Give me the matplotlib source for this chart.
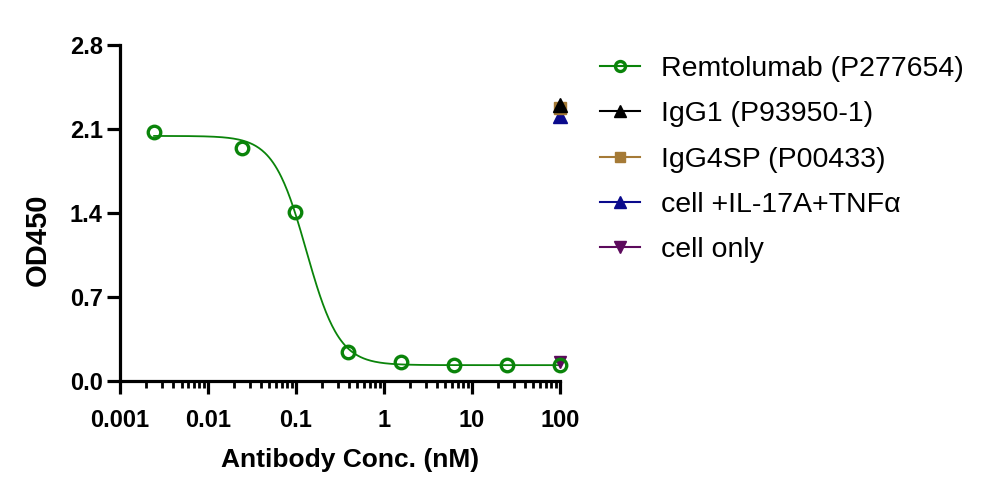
import numpy as np
import matplotlib
matplotlib.use("Agg")
import matplotlib.pyplot as plt
from matplotlib.ticker import LogLocator, NullFormatter, FixedLocator

plt.rcParams['font.family'] = ['Liberation Sans', 'DejaVu Sans']

# Remtolumab dose response
conc = [0.00244, 0.0244, 0.0977, 0.3906, 1.5625, 6.25, 25, 100]
od450 = [2.07, 1.94, 1.41, 0.24, 0.153, 0.13, 0.13, 0.13]

# single controls at 100 nM
ctrl_x = 100
igg1_od = 2.30
igg4_od = 2.27
stim_od = 2.21
cell_od = 0.16

# 4PL fit shown in the reference
fit_top = 2.04
fit_bottom = 0.13
fit_ic50 = 0.131
fit_hill = 2.33

green = '#0A840A'
brown = '#A57A36'
navy = '#0A0A8C'
purple = '#5C0A5C'

fig = plt.figure(figsize=(9.82, 4.99), dpi=100)
ax = fig.add_axes([0.1222, 0.237, 0.448, 0.6734])

xx = np.logspace(np.log10(conc[0]), 2, 400)
yy = fit_bottom + (fit_top - fit_bottom) / (1 + (xx / fit_ic50) ** fit_hill)
ax.plot(xx, yy, color=green, lw=1.3, zorder=3)

ax.plot([ctrl_x], [cell_od], ls='-', color=purple, marker='v', ms=9,
        label='cell only', zorder=4, clip_on=False)
ax.plot([ctrl_x], [stim_od], ls='-', color=navy, marker='^', ms=10,
        label='cell +IL-17A+TNFα', zorder=5, clip_on=False)
ax.plot([ctrl_x], [igg4_od], ls='-', color=brown, marker='s', ms=8,
        label='IgG4SP (P00433)', zorder=6, clip_on=False)
ax.plot([ctrl_x], [igg1_od], ls='-', color='black', marker='^', ms=10,
        label='IgG1 (P93950-1)', zorder=7, clip_on=False)
ax.plot(conc, od450, ls='none', marker='o', ms=9, mfc='none', mew=2.4,
        color=green, zorder=8, clip_on=False)
rem_handle, = ax.plot([], [], ls='-', color=green, marker='o', ms=8,
                      mfc='none', mew=2.4, label='Remtolumab (P277654)')

ax.set_xscale('log')
ax.set_xlim(0.001, 100)
ax.set_ylim(0, 2.8)
ax.yaxis.set_major_locator(FixedLocator([0, 0.7, 1.4, 2.1, 2.8]))
ax.set_yticklabels(['0.0', '0.7', '1.4', '2.1', '2.8'])
ax.xaxis.set_major_locator(FixedLocator([0.001, 0.01, 0.1, 1, 10, 100]))
ax.set_xticklabels(['0.001', '0.01', '0.1', '1', '10', '100'])
ax.xaxis.set_minor_locator(LogLocator(base=10, subs=np.arange(2, 10)))
ax.xaxis.set_minor_formatter(NullFormatter())

for side in ['top', 'right']:
    ax.spines[side].set_visible(False)
for side in ['left', 'bottom']:
    ax.spines[side].set_linewidth(2.3)
ax.tick_params(axis='both', which='major', direction='out', length=9.5,
               width=2.3, labelsize=17)
ax.tick_params(axis='x', which='major', pad=11)
ax.tick_params(axis='y', which='major', pad=3)
ax.tick_params(axis='x', which='minor', direction='out', length=5, width=2.0)
for lab in ax.get_xticklabels() + ax.get_yticklabels():
    lab.set_fontweight('bold')

ax.set_xlabel('Antibody Conc. (nM)', fontsize=19, fontweight='bold')
ax.xaxis.set_label_coords(0.524, -0.2, transform=ax.transAxes)
ax.xaxis.label.set_verticalalignment('top')
ax.set_ylabel('OD450', fontsize=21, fontweight='bold')
ax.yaxis.set_label_coords(-0.155, 0.419, transform=ax.transAxes)

handles, labels = ax.get_legend_handles_labels()
order = ['Remtolumab (P277654)', 'IgG1 (P93950-1)', 'IgG4SP (P00433)',
         'cell +IL-17A+TNFα', 'cell only']
hmap = dict(zip(labels, handles))
fig.legend([hmap[k] for k in order], order, loc='upper left',
           bbox_to_anchor=(600 / 982, 1 - 56 / 499), frameon=False,
           fontsize=20.5, handlelength=1.4, labelspacing=0.68,
           handletextpad=0.75, borderpad=0, borderaxespad=0,
           markerscale=0.9)

fig.savefig('out.png', dpi=100)
